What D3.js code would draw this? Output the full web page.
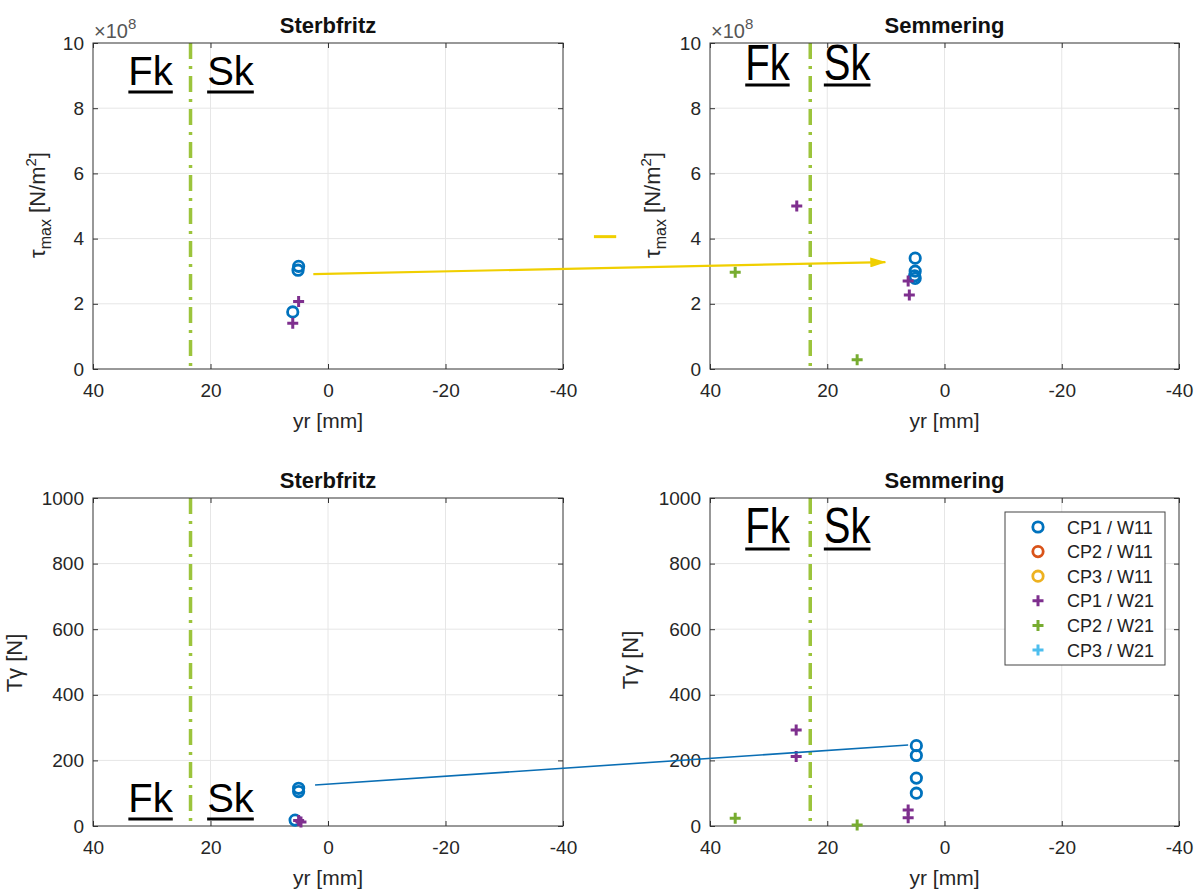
<!DOCTYPE html>
<html>
<head>
<meta charset="utf-8">
<script src="https://cdn.jsdelivr.net/npm/d3@7/dist/d3.min.js"></script>
<style>
  body { margin: 0; background: #fff; }
  text { font-family: "Liberation Sans", Arial, Helvetica, sans-serif; }
</style>
</head>
<body>
<svg id="chart" width="1200" height="891"></svg>
<script>
// series of the legend
const seriesNames = ['CP1 / W11', 'CP2 / W11', 'CP3 / W11', 'CP1 / W21', 'CP2 / W21', 'CP3 / W21'];
const seriesColors = ['#0072bd', '#d95319', '#edb120', '#7e2f8e', '#77ac30', '#4dbeee'];
const seriesSymbols = ['circle', 'circle', 'circle', 'plus', 'plus', 'plus'];

// tick labels
const xTicks = [40, 20, 0, -20, -40];
const tauTicks = [0, 2, 4, 6, 8, 10];
const forceTicks = [0, 200, 400, 600, 800, 1000];

// [yr mm, value, series index]; tau in 1e8 N/m^2, force in N
const tauSterbfritz = [
	[5, 3.15, 0], [5.1, 3.03, 0], [6, 1.75, 0],
	[5, 2.07, 3], [6, 1.4, 3]
];
const tauSemmering = [
	[5, 3.4, 0], [5, 3.0, 0], [5.1, 2.86, 0], [5, 2.78, 0],
	[6.2, 2.7, 3], [6, 2.27, 3], [25.2, 5.0, 3],
	[35.7, 2.97, 4], [14.9, 0.28, 4]
];
const forceSterbfritz = [
	[5, 115, 0], [5, 105, 0], [5.6, 18, 0],
	[5, 17, 3], [4.6, 12, 3]
];
const forceSemmering = [
	[4.8, 245, 0], [4.8, 215, 0], [4.8, 146, 0], [4.8, 100, 0],
	[25.3, 293, 3], [25.3, 212, 3], [6.2, 49, 3], [6.2, 25, 3],
	[35.7, 24, 4], [14.9, 3, 4]
];

// boundary Fk / Sk (yr mm)
const boundarySterbfritz = 23.4;
const boundarySemmering = 22.9;
const zoneLabels = ['Fk', 'Sk'];
const zoneLabelYr = [30.2, 16.6];

// connections drawn across the panels: panel index + data coords
const arrowTau = [{panel: 0, x: 2.5, y: 2.91}, {panel: 1, x: 10.1, y: 3.28}];
const strayTau = [{panel: 1, x: 59.8, y: 4.06}, {panel: 1, x: 56.0, y: 4.06}];
const lineForce = [{panel: 2, x: 2.2, y: 125}, {panel: 3, x: 6.2, y: 247}];

const arrowColor = '#f0cf00';
const lineColor = '#0a6eb4';
const boundaryColor = '#9cc43c';
const axisColor = '#333';
const gridColor = '#e6e6e6';

const panels = [
	{title: 'Sterbfritz', left: 93, top: 43, width: 470, height: 326, yTicks: tauTicks, data: tauSterbfritz,
		boundary: boundarySterbfritz, quantity: 'tau', zoneBase: 85, zoneScale: 1, zoneGap: 7, labelDx: -48, labelY: 205},
	{title: 'Semmering', left: 710, top: 43, width: 469, height: 326, yTicks: tauTicks, data: tauSemmering,
		boundary: boundarySemmering, quantity: 'tau', zoneBase: 80, zoneScale: 1.25, zoneGap: 5, labelDx: -50, labelY: 205},
	{title: 'Sterbfritz', left: 93, top: 498, width: 470, height: 328, yTicks: forceTicks, data: forceSterbfritz,
		boundary: boundarySterbfritz, quantity: 'force', zoneBase: 812, zoneScale: 1, zoneGap: 7, labelDx: -71, labelY: 663},
	{title: 'Semmering', left: 710, top: 498, width: 469, height: 328, yTicks: forceTicks, data: forceSemmering,
		boundary: boundarySemmering, quantity: 'force', zoneBase: 543, zoneScale: 1.25, zoneGap: 6, labelDx: -72, labelY: 660,
		legend: true}
];

const svg = d3.select('#chart');

svg.append('defs').append('marker')
	.attr('id', 'arrowHead')
	.attr('viewBox', '0 0 16 10')
	.attr('refX', 15).attr('refY', 5)
	.attr('markerWidth', 16).attr('markerHeight', 10)
	.attr('markerUnits', 'userSpaceOnUse')
	.attr('orient', 'auto')
	.append('path')
	.attr('d', 'M0,0L16,5L0,10Z')
	.attr('fill', arrowColor);

function drawSymbol(g, symbol, color) {
	if (symbol === 'circle') {
		g.append('circle').attr('r', 5.2)
			.attr('fill', 'none').attr('stroke', color).attr('stroke-width', 2.8);
	} else {
		g.append('path').attr('d', 'M-5.5,0H5.5M0,-5.5V5.5')
			.attr('stroke', color).attr('stroke-width', 3).attr('fill', 'none');
	}
}

panels.forEach(p => {
	p.x = d3.scaleLinear().domain([40, -40]).range([p.left, p.left + p.width]);
	p.y = d3.scaleLinear().domain([0, p.quantity === 'tau' ? 10 : 1000]).range([p.top + p.height, p.top]);

	const g = svg.append('g');

	// grid
	g.append('g').selectAll('line.vg').data(xTicks.slice(1, -1)).join('line')
		.attr('x1', d => p.x(d)).attr('x2', d => p.x(d))
		.attr('y1', p.top).attr('y2', p.top + p.height)
		.attr('stroke', gridColor);
	g.append('g').selectAll('line.hg').data(p.yTicks.slice(1, -1)).join('line')
		.attr('x1', p.left).attr('x2', p.left + p.width)
		.attr('y1', d => p.y(d)).attr('y2', d => p.y(d))
		.attr('stroke', gridColor);

	// boundary between zones
	g.append('line')
		.attr('x1', p.x(p.boundary)).attr('x2', p.x(p.boundary))
		.attr('y1', p.top).attr('y2', p.top + p.height)
		.attr('stroke', boundaryColor).attr('stroke-width', 3.5)
		.attr('stroke-dasharray', '16,7,3,7');

	// axes, ticks inward (matlab box)
	const fmt = d => String(d);
	const bottom = g.append('g').attr('transform', `translate(0,${p.top + p.height})`)
		.call(d3.axisBottom(p.x).tickValues(xTicks).tickFormat(fmt).tickSizeInner(-5).tickSizeOuter(0).tickPadding(15));
	const left = g.append('g').attr('transform', `translate(${p.left},0)`)
		.call(d3.axisLeft(p.y).tickValues(p.yTicks).tickFormat(fmt).tickSizeInner(-5).tickSizeOuter(0).tickPadding(9));
	const top = g.append('g').attr('transform', `translate(0,${p.top})`)
		.call(d3.axisTop(p.x).tickValues(xTicks).tickFormat('').tickSizeInner(-5).tickSizeOuter(0));
	const right = g.append('g').attr('transform', `translate(${p.left + p.width},0)`)
		.call(d3.axisRight(p.y).tickValues(p.yTicks).tickFormat('').tickSizeInner(-5).tickSizeOuter(0));
	[bottom, left, top, right].forEach(a => {
		a.select('.domain').remove();
		a.selectAll('line').attr('stroke', axisColor);
		a.selectAll('text').attr('font-size', 19).attr('fill', '#262626')
			.attr('font-family', '"Liberation Sans", Arial, sans-serif');
	});
	g.append('rect')
		.attr('x', p.left).attr('y', p.top).attr('width', p.width).attr('height', p.height)
		.attr('fill', 'none').attr('stroke', axisColor).attr('stroke-width', 1);

	// title
	g.append('text')
		.attr('x', p.left + p.width / 2).attr('y', p.top - 10)
		.attr('text-anchor', 'middle').attr('font-size', 22).attr('font-weight', 'bold')
		.attr('fill', '#111').text(p.title);

	// x label
	g.append('text')
		.attr('x', p.left + p.width / 2).attr('y', p.top + p.height + 59)
		.attr('text-anchor', 'middle').attr('font-size', 21).attr('fill', '#262626')
		.text('yr [mm]');

	// y label
	const yl = g.append('text')
		.attr('transform', `translate(${p.left + p.labelDx},${p.labelY}) rotate(-90)`)
		.attr('text-anchor', 'middle').attr('font-size', 22).attr('fill', '#262626');
	if (p.quantity === 'tau') {
		yl.append('tspan').text('τ');
		yl.append('tspan').attr('font-size', 16).attr('dy', 6).text('max');
		yl.append('tspan').attr('dy', -6).text(' [N/m');
		yl.append('tspan').attr('font-size', 15).attr('dy', -9).text('2');
		yl.append('tspan').attr('dy', 9).text(']');

		const ex = g.append('text')
			.attr('x', p.left + 1).attr('y', p.top - 5)
			.attr('font-size', 20).attr('fill', '#555');
		ex.append('tspan').text('×10');
		ex.append('tspan').attr('font-size', 15).attr('dy', -9).text('8');
	} else {
		yl.text('Tγ [N]');
	}

	// zone labels
	zoneLabels.forEach((lbl, i) => {
		const cx = p.x(zoneLabelYr[i]);
		const t = g.append('text')
			.attr('transform', `translate(${cx},${p.zoneBase}) scale(1,${p.zoneScale})`)
			.attr('text-anchor', 'middle').attr('font-size', 40).attr('fill', '#000')
			.text(lbl);
		const w = t.node().getComputedTextLength();
		g.append('line')
			.attr('x1', cx - w / 2).attr('x2', cx + w / 2)
			.attr('y1', p.zoneBase + p.zoneGap).attr('y2', p.zoneBase + p.zoneGap)
			.attr('stroke', '#000').attr('stroke-width', 3);
	});

	// markers
	g.append('g').selectAll('g').data(p.data).join('g')
		.attr('transform', d => `translate(${p.x(d[0])},${p.y(d[1])})`)
		.each(function(d) {
			drawSymbol(d3.select(this), seriesSymbols[d[2]], seriesColors[d[2]]);
		});

	// legend
	if (p.legend) {
		const lg = g.append('g').attr('transform', 'translate(1005,512)');
		lg.append('rect').attr('width', 160).attr('height', 153)
			.attr('fill', '#fff').attr('stroke', '#444').attr('stroke-width', 1);
		seriesNames.forEach((name, i) => {
			const row = lg.append('g').attr('transform', `translate(0,${15 + i * 24.6})`);
			const m = row.append('g').attr('transform', 'translate(33,0)');
			drawSymbol(m, seriesSymbols[i], seriesColors[i]);
			row.append('text').attr('x', 62).attr('y', 6.5)
				.attr('font-size', 18).attr('fill', '#222').text(name);
		});
	}
});

const px = pt => [panels[pt.panel].x(pt.x), panels[pt.panel].y(pt.y)];

function connect(pts, color, width, head) {
	const a = px(pts[0]);
	const b = px(pts[1]);
	const l = svg.append('line')
		.attr('x1', a[0]).attr('y1', a[1]).attr('x2', b[0]).attr('y2', b[1])
		.attr('stroke', color).attr('stroke-width', width);
	if (head) l.attr('marker-end', 'url(#arrowHead)');
}

connect(arrowTau, arrowColor, 2.2, true);
connect(strayTau, arrowColor, 3, false);
connect(lineForce, lineColor, 1.6, false);
</script>
</body>
</html>
